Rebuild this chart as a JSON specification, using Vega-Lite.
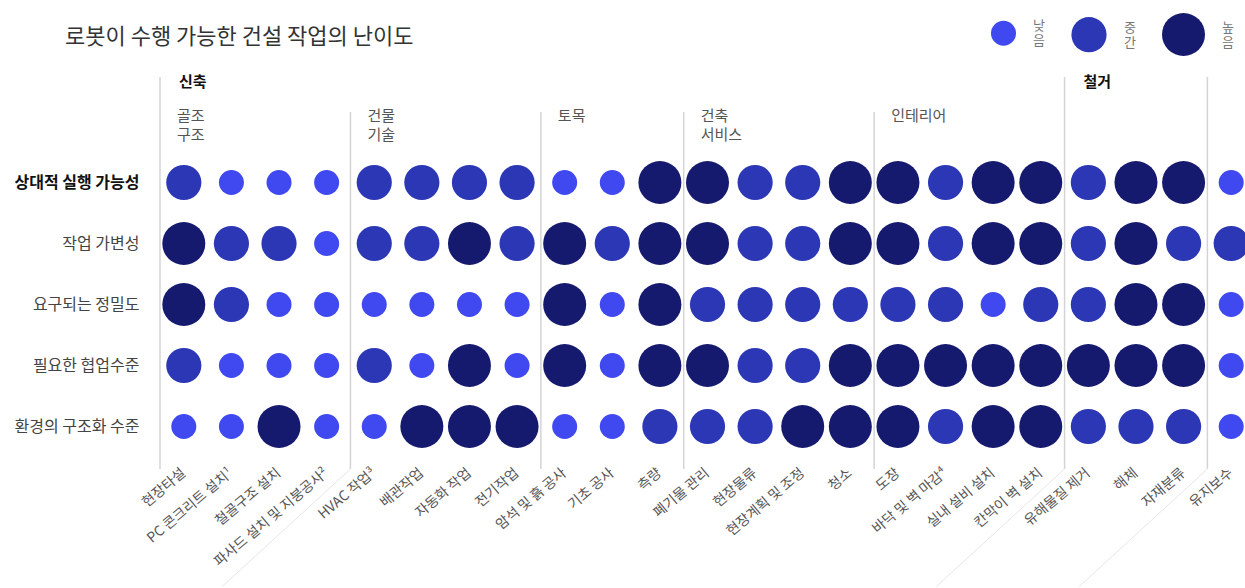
{
  "$schema": "https://vega.github.io/schema/vega-lite/v6.json",
  "autosize": {"type": "none"},
  "padding": {"left": 160, "top": 30, "right": 0, "bottom": 131},
  "width": 1085,
  "height": 427,
  "background": "white",
  "config": {
    "font": "Noto Sans CJK KR",
    "view": {"stroke": null}
  },
  "title": {
    "text": "로봇이 수행 가능한 건설 작업의 난이도",
    "anchor": "start",
    "frame": "group",
    "fontSize": 22,
    "fontWeight": "normal",
    "color": "#333333",
    "baseline": "middle",
    "offset": 0,
    "dx": -95,
    "dy": 46
  },
  "datasets": {
    "seps": [
      {"first": "현장타설", "tier": "h1"},
      {"first": "HVAC 작업³", "tier": "h2"},
      {"first": "암석 및 흙 공사", "tier": "h2"},
      {"first": "폐기물 관리", "tier": "h2"},
      {"first": "도장", "tier": "h2"},
      {"first": "유해물질 제거", "tier": "h1"},
      {"first": "유지보수", "tier": "h1"}
    ],
    "leaders": [
      {"first": "HVAC 작업³"},
      {"first": "유해물질 제거"},
      {"first": "유지보수"}
    ],
    "heads": [
      {"first": "현장타설", "tier": "h1", "label": "신축"},
      {"first": "유해물질 제거", "tier": "h1", "label": "철거"},
      {"first": "현장타설", "tier": "h2", "label": "골조\n구조"},
      {"first": "HVAC 작업³", "tier": "h2", "label": "건물\n기술"},
      {"first": "암석 및 흙 공사", "tier": "h2", "label": "토목"},
      {"first": "폐기물 관리", "tier": "h2", "label": "건축\n서비스"},
      {"first": "도장", "tier": "h2", "label": "인테리어"}
    ],
    "cells": [
      {"task": "현장타설", "criterion": "상대적 실행 가능성", "level": "중간"},
      {"task": "현장타설", "criterion": "작업 가변성", "level": "높음"},
      {"task": "현장타설", "criterion": "요구되는 정밀도", "level": "높음"},
      {"task": "현장타설", "criterion": "필요한 협업수준", "level": "중간"},
      {"task": "현장타설", "criterion": "환경의 구조화 수준", "level": "낮음"},
      {"task": "PC 콘크리트 설치¹", "criterion": "상대적 실행 가능성", "level": "낮음"},
      {"task": "PC 콘크리트 설치¹", "criterion": "작업 가변성", "level": "중간"},
      {"task": "PC 콘크리트 설치¹", "criterion": "요구되는 정밀도", "level": "중간"},
      {"task": "PC 콘크리트 설치¹", "criterion": "필요한 협업수준", "level": "낮음"},
      {"task": "PC 콘크리트 설치¹", "criterion": "환경의 구조화 수준", "level": "낮음"},
      {"task": "철골구조 설치", "criterion": "상대적 실행 가능성", "level": "낮음"},
      {"task": "철골구조 설치", "criterion": "작업 가변성", "level": "중간"},
      {"task": "철골구조 설치", "criterion": "요구되는 정밀도", "level": "낮음"},
      {"task": "철골구조 설치", "criterion": "필요한 협업수준", "level": "낮음"},
      {"task": "철골구조 설치", "criterion": "환경의 구조화 수준", "level": "높음"},
      {"task": "파사드 설치 및 지붕공사²", "criterion": "상대적 실행 가능성", "level": "낮음"},
      {"task": "파사드 설치 및 지붕공사²", "criterion": "작업 가변성", "level": "낮음"},
      {"task": "파사드 설치 및 지붕공사²", "criterion": "요구되는 정밀도", "level": "낮음"},
      {"task": "파사드 설치 및 지붕공사²", "criterion": "필요한 협업수준", "level": "낮음"},
      {"task": "파사드 설치 및 지붕공사²", "criterion": "환경의 구조화 수준", "level": "낮음"},
      {"task": "HVAC 작업³", "criterion": "상대적 실행 가능성", "level": "중간"},
      {"task": "HVAC 작업³", "criterion": "작업 가변성", "level": "중간"},
      {"task": "HVAC 작업³", "criterion": "요구되는 정밀도", "level": "낮음"},
      {"task": "HVAC 작업³", "criterion": "필요한 협업수준", "level": "중간"},
      {"task": "HVAC 작업³", "criterion": "환경의 구조화 수준", "level": "낮음"},
      {"task": "배관작업", "criterion": "상대적 실행 가능성", "level": "중간"},
      {"task": "배관작업", "criterion": "작업 가변성", "level": "중간"},
      {"task": "배관작업", "criterion": "요구되는 정밀도", "level": "낮음"},
      {"task": "배관작업", "criterion": "필요한 협업수준", "level": "낮음"},
      {"task": "배관작업", "criterion": "환경의 구조화 수준", "level": "높음"},
      {"task": "자동화 작업", "criterion": "상대적 실행 가능성", "level": "중간"},
      {"task": "자동화 작업", "criterion": "작업 가변성", "level": "높음"},
      {"task": "자동화 작업", "criterion": "요구되는 정밀도", "level": "낮음"},
      {"task": "자동화 작업", "criterion": "필요한 협업수준", "level": "높음"},
      {"task": "자동화 작업", "criterion": "환경의 구조화 수준", "level": "높음"},
      {"task": "전기작업", "criterion": "상대적 실행 가능성", "level": "중간"},
      {"task": "전기작업", "criterion": "작업 가변성", "level": "중간"},
      {"task": "전기작업", "criterion": "요구되는 정밀도", "level": "낮음"},
      {"task": "전기작업", "criterion": "필요한 협업수준", "level": "낮음"},
      {"task": "전기작업", "criterion": "환경의 구조화 수준", "level": "높음"},
      {"task": "암석 및 흙 공사", "criterion": "상대적 실행 가능성", "level": "낮음"},
      {"task": "암석 및 흙 공사", "criterion": "작업 가변성", "level": "높음"},
      {"task": "암석 및 흙 공사", "criterion": "요구되는 정밀도", "level": "높음"},
      {"task": "암석 및 흙 공사", "criterion": "필요한 협업수준", "level": "높음"},
      {"task": "암석 및 흙 공사", "criterion": "환경의 구조화 수준", "level": "낮음"},
      {"task": "기초 공사", "criterion": "상대적 실행 가능성", "level": "낮음"},
      {"task": "기초 공사", "criterion": "작업 가변성", "level": "중간"},
      {"task": "기초 공사", "criterion": "요구되는 정밀도", "level": "낮음"},
      {"task": "기초 공사", "criterion": "필요한 협업수준", "level": "낮음"},
      {"task": "기초 공사", "criterion": "환경의 구조화 수준", "level": "낮음"},
      {"task": "측량", "criterion": "상대적 실행 가능성", "level": "높음"},
      {"task": "측량", "criterion": "작업 가변성", "level": "높음"},
      {"task": "측량", "criterion": "요구되는 정밀도", "level": "높음"},
      {"task": "측량", "criterion": "필요한 협업수준", "level": "높음"},
      {"task": "측량", "criterion": "환경의 구조화 수준", "level": "중간"},
      {"task": "폐기물 관리", "criterion": "상대적 실행 가능성", "level": "높음"},
      {"task": "폐기물 관리", "criterion": "작업 가변성", "level": "높음"},
      {"task": "폐기물 관리", "criterion": "요구되는 정밀도", "level": "중간"},
      {"task": "폐기물 관리", "criterion": "필요한 협업수준", "level": "높음"},
      {"task": "폐기물 관리", "criterion": "환경의 구조화 수준", "level": "중간"},
      {"task": "현장물류", "criterion": "상대적 실행 가능성", "level": "중간"},
      {"task": "현장물류", "criterion": "작업 가변성", "level": "중간"},
      {"task": "현장물류", "criterion": "요구되는 정밀도", "level": "중간"},
      {"task": "현장물류", "criterion": "필요한 협업수준", "level": "중간"},
      {"task": "현장물류", "criterion": "환경의 구조화 수준", "level": "중간"},
      {"task": "현장계획 및 조정", "criterion": "상대적 실행 가능성", "level": "중간"},
      {"task": "현장계획 및 조정", "criterion": "작업 가변성", "level": "중간"},
      {"task": "현장계획 및 조정", "criterion": "요구되는 정밀도", "level": "중간"},
      {"task": "현장계획 및 조정", "criterion": "필요한 협업수준", "level": "중간"},
      {"task": "현장계획 및 조정", "criterion": "환경의 구조화 수준", "level": "높음"},
      {"task": "청소", "criterion": "상대적 실행 가능성", "level": "높음"},
      {"task": "청소", "criterion": "작업 가변성", "level": "높음"},
      {"task": "청소", "criterion": "요구되는 정밀도", "level": "중간"},
      {"task": "청소", "criterion": "필요한 협업수준", "level": "높음"},
      {"task": "청소", "criterion": "환경의 구조화 수준", "level": "높음"},
      {"task": "도장", "criterion": "상대적 실행 가능성", "level": "높음"},
      {"task": "도장", "criterion": "작업 가변성", "level": "높음"},
      {"task": "도장", "criterion": "요구되는 정밀도", "level": "중간"},
      {"task": "도장", "criterion": "필요한 협업수준", "level": "높음"},
      {"task": "도장", "criterion": "환경의 구조화 수준", "level": "높음"},
      {"task": "바닥 및 벽 마감⁴", "criterion": "상대적 실행 가능성", "level": "중간"},
      {"task": "바닥 및 벽 마감⁴", "criterion": "작업 가변성", "level": "중간"},
      {"task": "바닥 및 벽 마감⁴", "criterion": "요구되는 정밀도", "level": "중간"},
      {"task": "바닥 및 벽 마감⁴", "criterion": "필요한 협업수준", "level": "높음"},
      {"task": "바닥 및 벽 마감⁴", "criterion": "환경의 구조화 수준", "level": "중간"},
      {"task": "실내 설비 설치", "criterion": "상대적 실행 가능성", "level": "높음"},
      {"task": "실내 설비 설치", "criterion": "작업 가변성", "level": "높음"},
      {"task": "실내 설비 설치", "criterion": "요구되는 정밀도", "level": "낮음"},
      {"task": "실내 설비 설치", "criterion": "필요한 협업수준", "level": "높음"},
      {"task": "실내 설비 설치", "criterion": "환경의 구조화 수준", "level": "높음"},
      {"task": "칸막이 벽 설치", "criterion": "상대적 실행 가능성", "level": "높음"},
      {"task": "칸막이 벽 설치", "criterion": "작업 가변성", "level": "높음"},
      {"task": "칸막이 벽 설치", "criterion": "요구되는 정밀도", "level": "중간"},
      {"task": "칸막이 벽 설치", "criterion": "필요한 협업수준", "level": "높음"},
      {"task": "칸막이 벽 설치", "criterion": "환경의 구조화 수준", "level": "높음"},
      {"task": "유해물질 제거", "criterion": "상대적 실행 가능성", "level": "중간"},
      {"task": "유해물질 제거", "criterion": "작업 가변성", "level": "중간"},
      {"task": "유해물질 제거", "criterion": "요구되는 정밀도", "level": "중간"},
      {"task": "유해물질 제거", "criterion": "필요한 협업수준", "level": "높음"},
      {"task": "유해물질 제거", "criterion": "환경의 구조화 수준", "level": "중간"},
      {"task": "해체", "criterion": "상대적 실행 가능성", "level": "높음"},
      {"task": "해체", "criterion": "작업 가변성", "level": "높음"},
      {"task": "해체", "criterion": "요구되는 정밀도", "level": "높음"},
      {"task": "해체", "criterion": "필요한 협업수준", "level": "높음"},
      {"task": "해체", "criterion": "환경의 구조화 수준", "level": "중간"},
      {"task": "자재분류", "criterion": "상대적 실행 가능성", "level": "높음"},
      {"task": "자재분류", "criterion": "작업 가변성", "level": "중간"},
      {"task": "자재분류", "criterion": "요구되는 정밀도", "level": "높음"},
      {"task": "자재분류", "criterion": "필요한 협업수준", "level": "높음"},
      {"task": "자재분류", "criterion": "환경의 구조화 수준", "level": "중간"},
      {"task": "유지보수", "criterion": "상대적 실행 가능성", "level": "낮음"},
      {"task": "유지보수", "criterion": "작업 가변성", "level": "중간"},
      {"task": "유지보수", "criterion": "요구되는 정밀도", "level": "낮음"},
      {"task": "유지보수", "criterion": "필요한 협업수준", "level": "낮음"},
      {"task": "유지보수", "criterion": "환경의 구조화 수준", "level": "낮음"}
    ]
  },
  "layer": [
    {
      "data": {"name": "cells"},
      "mark": {"type": "circle", "opacity": 1},
      "encoding": {
        "x": {
          "field": "task", "type": "nominal",
          "scale": {
            "type": "band", "paddingInner": 0, "paddingOuter": 0, "range": [0, 1095],
            "domain": ["현장타설", "PC 콘크리트 설치¹", "철골구조 설치", "파사드 설치 및 지붕공사²", "HVAC 작업³", "배관작업", "자동화 작업", "전기작업", "암석 및 흙 공사", "기초 공사", "측량", "폐기물 관리", "현장물류", "현장계획 및 조정", "청소", "도장", "바닥 및 벽 마감⁴", "실내 설비 설치", "칸막이 벽 설치", "유해물질 제거", "해체", "자재분류", "유지보수"]
          },
          "axis": {
            "title": null, "orient": "bottom", "domain": false, "ticks": false, "tickSize": 0,
            "labelAngle": -40, "labelAlign": "right", "labelBaseline": "middle",
            "labelPadding": 14, "labelFontSize": 14, "labelColor": "#555555",
            "labelOverlap": false, "labelBound": false, "labelLimit": 300, "grid": false
          }
        },
        "y": {
          "field": "criterion", "type": "nominal",
          "scale": {
            "type": "band", "paddingInner": 0, "paddingOuter": 0,
            "domain": ["h1", "h2", "상대적 실행 가능성", "작업 가변성", "요구되는 정밀도", "필요한 협업수준", "환경의 구조화 수준"]
          },
          "axis": {
            "title": null, "domain": false, "ticks": false, "tickSize": 0, "grid": false,
            "values": ["상대적 실행 가능성", "작업 가변성", "요구되는 정밀도", "필요한 협업수준", "환경의 구조화 수준"],
            "labelPadding": 21, "labelFontSize": 16, "labelLimit": 300,
            "labelFontWeight": {"condition": {"test": "datum.value == '상대적 실행 가능성'", "value": "bold"}, "value": "normal"},
            "labelColor": {"condition": {"test": "datum.value == '상대적 실행 가능성'", "value": "#111111"}, "value": "#444444"}
          }
        },
        "color": {
          "field": "level", "type": "ordinal",
          "scale": {"domain": ["낮음", "중간", "높음"], "range": ["#4049F0", "#2C37B5", "#161A6E"]},
          "legend": {
            "title": null, "orient": "none", "legendX": 831, "legendY": -17, "direction": "horizontal",
            "labelExpr": "split(datum.label, '')", "labelFontSize": 13, "labelColor": "#777777", "labelBaseline": "bottom",
            "labelOffset": 17, "columnPadding": 26, "symbolType": "circle", "symbolOpacity": 1, "symbolStrokeWidth": 0
          }
        },
        "size": {
          "field": "level", "type": "ordinal",
          "scale": {"domain": ["낮음", "중간", "높음"], "range": [625, 1849]},
          "legend": {
            "title": null, "orient": "none", "legendX": 831, "legendY": -17, "direction": "horizontal",
            "labelExpr": "split(datum.label, '')", "labelFontSize": 13, "labelColor": "#777777", "labelBaseline": "bottom",
            "labelOffset": 17, "columnPadding": 26, "symbolType": "circle", "symbolOpacity": 1, "symbolStrokeWidth": 0
          }
        }
      }
    },
    {
      "data": {"name": "seps"},
      "transform": [{"filter": "datum.tier == 'h1'"}],
      "mark": {"type": "rule", "color": "#d4d4d4", "strokeWidth": 1.5, "yOffset": 16.5, "y2Offset": 42.5},
      "encoding": {
        "x": {"field": "first", "type": "nominal", "bandPosition": 0, "title": null},
        "y": {"field": "tier", "type": "nominal", "bandPosition": 0.5, "title": null},
        "y2": {"datum": "환경의 구조화 수준"}
      }
    },
    {
      "data": {"name": "seps"},
      "transform": [{"filter": "datum.tier == 'h2'"}],
      "mark": {"type": "rule", "color": "#d4d4d4", "strokeWidth": 1.5, "yOffset": -9.5, "y2Offset": 42.5},
      "encoding": {
        "x": {"field": "first", "type": "nominal", "bandPosition": 0, "title": null},
        "y": {"field": "tier", "type": "nominal", "bandPosition": 0.5, "title": null},
        "y2": {"datum": "환경의 구조화 수준"}
      }
    },
    {
      "data": {"name": "leaders"},
      "mark": {"type": "rule", "color": "#e6e6e6", "strokeWidth": 1, "yOffset": 42.5, "y2Offset": 160, "x2Offset": -152},
      "encoding": {
        "x": {"field": "first", "type": "nominal", "bandPosition": 0, "title": null},
        "x2": {"field": "first"},
        "y": {"datum": "환경의 구조화 수준", "bandPosition": 0.5},
        "y2": {"datum": "환경의 구조화 수준"}
      }
    },
    {
      "data": {"name": "heads"},
      "transform": [{"filter": "datum.tier == 'h1'"}],
      "mark": {"type": "text", "align": "left", "baseline": "middle", "dx": 19, "dy": 21, "fontSize": 15, "fontWeight": "bold", "color": "#111111"},
      "encoding": {
        "x": {"field": "first", "type": "nominal", "bandPosition": 0, "title": null},
        "y": {"field": "tier", "type": "nominal", "title": null},
        "text": {"field": "label", "type": "nominal"}
      }
    },
    {
      "data": {"name": "heads"},
      "transform": [{"filter": "datum.tier == 'h2'"}],
      "mark": {"type": "text", "align": "left", "baseline": "top", "dx": 17, "dy": -12.5, "fontSize": 15, "color": "#555555", "lineBreak": "\n", "lineHeight": 19},
      "encoding": {
        "x": {"field": "first", "type": "nominal", "bandPosition": 0, "title": null},
        "y": {"field": "tier", "type": "nominal", "title": null},
        "text": {"field": "label", "type": "nominal"}
      }
    }
  ]
}
